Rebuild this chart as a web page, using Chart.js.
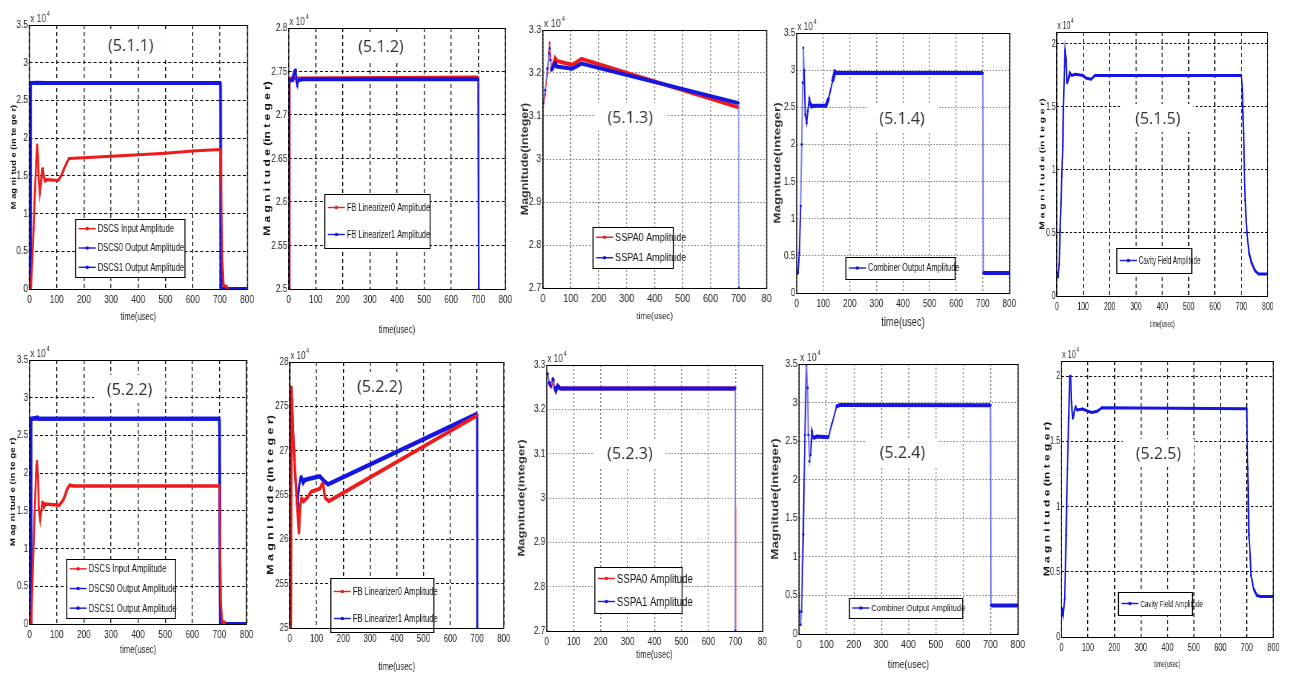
<!DOCTYPE html>
<html>
<head>
<meta charset="utf-8">
<script src="https://cdn.jsdelivr.net/npm/chart.js@4.4.1/dist/chart.umd.min.js"></script>
<style>
  body { margin: 0; background: #fff; }
  #page { position: relative; width: 1289px; height: 680px; overflow: hidden; background: #fff; }
  .panel { position: absolute; transform-origin: 0 0; }
</style>
</head>
<body>
<div id="page"></div>
<script>
// ---- tick values / labels ----
const xTickVals = [0, 100, 200, 300, 400, 500, 600, 700, 800];
const xTickText = ['0', '100', '200', '300', '400', '500', '600', '700', '800'];
const xTickTextCut = ['0', '100', '200', '300', '400', '500', '600', '700', '80'];
const yVals0to35 = [0, 0.5, 1, 1.5, 2, 2.5, 3, 3.5];
const yText0to35 = ['0', '0.5', '1', '1.5', '2', '2.5', '3', '3.5'];
const yVals25to28 = [2.5, 2.55, 2.6, 2.65, 2.7, 2.75, 2.8];
const yText25to28 = ['2.5', '2.55', '2.6', '2.65', '2.7', '2.75', '2.8'];
const yText25to28Blur = ['25', '255', '26', '265', '27', '275', '28'];
const yVals27to33 = [2.7, 2.8, 2.9, 3, 3.1, 3.2, 3.3];
const yText27to33 = ['2.7', '2.8', '2.9', '3', '3.1', '3.2', '3.3'];
const yVals0to2 = [0, 0.5, 1, 1.5, 2];
const yText0to2 = ['0', '0.5', '1', '1.5', '2'];

// ---- series, [time(usec), magnitude x10^4] ----
const dscsIn511 = [[0,0],[5,0],[10,0.35],[15,0.8],[20,1.3],[25,1.7],[28,1.91],[31,1.75],[34,1.45],[38,1.27],[42,1.4],[46,1.58],[49,1.6],[53,1.48],[58,1.43],[65,1.45],[105,1.44],[115,1.49],[130,1.62],[145,1.73],[200,1.74],[300,1.76],[400,1.78],[500,1.8],[600,1.83],[700,1.85],[703,1.84],[705,1.42],[709,0.35],[713,0.05],[725,0.03],[728,0]];
const dscs0Out511 = [[0,0],[3,0],[4,2.73],[700,2.73],[702,2.73],[704,0],[800,0]];
const dscs1Out511 = [[0,0],[3,0],[4,2.73],[30,2.735],[60,2.73],[700,2.73],[702,2.72],[704,0],[800,0]];

const fbLin0_512 = [[0,2.5],[3,2.5],[4,2.742],[700,2.743],[702,2.5]];
const fbLin1_512 = [[0,2.5],[2,2.5],[3,2.74],[14,2.74],[18,2.745],[22,2.75],[26,2.752],[29,2.738],[32,2.733],[36,2.74],[50,2.741],[700,2.741],[702,2.5]];

const sspa0_513 = [[0,3.12],[8,3.15],[16,3.2],[22,3.25],[24,3.27],[27,3.24],[30,3.21],[35,3.215],[40,3.225],[44,3.234],[50,3.228],[75,3.224],[105,3.219],[120,3.225],[138,3.233],[700,3.12]];
const sspa1_513 = [[0,2.7],[1,3.13],[8,3.16],[16,3.21],[22,3.245],[24,3.257],[27,3.23],[30,3.206],[35,3.212],[40,3.218],[44,3.222],[50,3.215],[75,3.213],[105,3.21],[120,3.215],[138,3.222],[700,3.13],[701,2.7]];

const combOut514 = [[0,0.27],[5,0.27],[10,0.54],[15,1.17],[19,2.0],[22.5,2.83],[25,3.3],[28,3.0],[32.5,2.4],[37.5,2.29],[42,2.45],[47.5,2.62],[52,2.55],[56,2.51],[65,2.52],[110,2.52],[120,2.62],[135,2.85],[144,2.98],[150,2.96],[700,2.96],[702,0.27],[800,0.27]];

const cavity515 = [[2,0.18],[5,0.15],[9,0.25],[12.5,0.52],[19,0.95],[22.5,1.19],[25,1.48],[29,1.82],[31.5,1.95],[35,1.88],[39,1.69],[44,1.72],[49,1.77],[57,1.75],[70,1.76],[100,1.75],[110,1.73],[130,1.72],[145,1.75],[700,1.75],[704,1.6],[708,1.29],[714,0.76],[721,0.5],[729,0.34],[739,0.26],[752,0.2],[765,0.175],[800,0.175]];

const dscsIn522 = [[0,0],[6,0],[12,0.73],[18,1.44],[25,2.1],[27,2.16],[31,1.97],[34,1.53],[39,1.38],[43,1.5],[47,1.62],[50,1.6],[53,1.55],[58,1.59],[110,1.575],[125,1.65],[140,1.8],[148,1.84],[160,1.83],[700,1.83],[702,1.18],[705,0.29],[710,0.03],[720,0.02],[722,0]];
const dscs0Out522 = [[0,0],[3,0],[5,2.72],[700,2.72],[703,0],[800,0]];
const dscs1Out522 = [[0,0],[3,0],[5,2.72],[30,2.74],[35,2.72],[700,2.72],[703,0],[800,0]];

const fbLin0_522 = [[4,2.5],[6,2.772],[10,2.733],[19,2.68],[29,2.632],[34,2.607],[38.6,2.636],[43.5,2.647],[51,2.643],[65,2.647],[81,2.654],[112,2.657],[124,2.664],[131,2.647],[146,2.643],[697,2.739],[700,2.74]];
const fbLin1_522 = [[0,2.5],[2,2.5],[3,2.771],[9,2.756],[14,2.707],[19,2.677],[27,2.643],[29,2.639],[34,2.658],[41,2.671],[50,2.664],[56,2.667],[81,2.669],[112,2.671],[131,2.665],[143,2.662],[697,2.741],[700,2.741],[701,2.5]];

const sspa0_523 = [[4,3.28],[9,3.261],[16,3.253],[25,3.265],[29,3.25],[34,3.242],[41,3.253],[50,3.247],[700,3.247],[700.5,null],[701,2.98],[701,2.7]];
const sspa1_523 = [[0,2.7],[1,3.28],[4,3.28],[9,3.261],[16,3.253],[22,3.27],[25,3.265],[29,3.25],[34,3.242],[41,3.253],[50,3.247],[700,3.247],[700,2.7]];

const combOut524 = [[2,0.29],[5,0.12],[9,0.29],[15,1.29],[21,2.58],[27,3.49],[31,3.19],[34,2.58],[38,2.24],[42,2.32],[47,2.63],[52,2.54],[64,2.56],[107,2.55],[137,2.95],[150,2.97],[700,2.964],[702,0.37],[800,0.37]];

const cavity525 = [[2.5,0.217],[6,0.166],[12.6,0.29],[17.6,0.78],[22.6,1.29],[27.6,1.68],[31.4,1.995],[35,2.0],[37.7,1.8],[42.7,1.675],[46,1.7],[53,1.765],[59,1.74],[80,1.747],[100,1.73],[115,1.72],[135,1.73],[153,1.757],[700,1.75],[703,1.29],[708,0.78],[716,0.47],[725,0.37],[737,0.32],[750,0.31],[800,0.31]];

// ---- styles ----
const RED = '#ee1b1b';
const BLUE = '#1616e2';
const LIGHTBLUE = '#7a7af0';
const FONT = "'Liberation Sans', Arial, sans-serif";
const Y_W = 40, TOP_PAD = 20, RIGHT_PAD = 16, X_H = 50;

const dashGrid = { color: '#111', dash: [4, 3] };
const dotGrid = { color: '#8a8a8a', dash: [2, 2] };

const spacedTitle = 'M a g n i t u d e (in t e g e r)';
const shortSpaced = 'M ag ni tud e (in te ge r)';

// k = horizontal squeeze of each panel (the source figure was squashed)
const panels = [
  { box: [29, 25, 246, 289], k: 0.76, yMin: 0, yMax: 3.5, yVals: yVals0to35, yText: yText0to35, xText: xTickText,
    grid: dashGrid, yTitle: shortSpaced, yTitleSize: 9.3, yTitleOff: 16, xTitleSize: 10, xTitleGap: 28, legendSize: 10,
    note: '(5.1.1)', notePos: [130, 45], legendBox: [75, 219, 184, 277],
    series: [
      { label: 'DSCS Input Amplitude', data: dscsIn511, color: RED, width: 3, steep: 2, order: 0 },
      { label: 'DSCS0 Output Amplitude', data: dscs0Out511, color: BLUE, width: 4, steep: 2.5, order: 2 },
      { label: 'DSCS1 Output Amplitude', data: dscs1Out511, color: BLUE, width: 4, steep: 2.5, order: 1 }
    ] },
  { box: [289, 28, 505, 289], k: 0.74, yMin: 2.5, yMax: 2.8, yVals: yVals25to28, yText: yText25to28, xText: xTickText,
    grid: dashGrid, yTitle: spacedTitle, yTitleSize: 12, yTitleOff: 21, xTitleSize: 10.5, xTitleGap: 41, legendSize: 10,
    note: '(5.1.2)', notePos: [381, 46], legendBox: [325, 194, 430, 248],
    series: [
      { label: 'FB Linearizer0 Amplitude', data: fbLin0_512, color: RED, width: 4, steep: 1.5, order: 1 },
      { label: 'FB Linearizer1 Amplitude', data: fbLin1_512, color: BLUE, width: 4, steep: 1.5, order: 0 }
    ] },
  { box: [543, 30, 766, 288], k: 0.82, yMin: 2.7, yMax: 3.3, yVals: yVals27to33, yText: yText27to33, xText: xTickTextCut,
    grid: dotGrid, yTitle: 'Magnitude(integer)', yTitleSize: 12.5, plainTitle: true, yTitleOff: 18, xTitleSize: 9.5, xTitleGap: 28, legendSize: 11,
    note: '(5.1.3)', notePos: [630, 117], legendBox: [593, 227, 673, 268],
    series: [
      { label: 'SSPA0 Amplitude', data: sspa0_513, color: RED, width: 4, steep: 1.2, order: 1 },
      { label: 'SSPA1 Amplitude', data: sspa1_513, color: BLUE, width: 4, steep: 1, steepColor: LIGHTBLUE, order: 0 }
    ] },
  { box: [797, 33, 1009, 293], k: 0.74, yMin: 0, yMax: 3.5, yVals: yVals0to35, yText: yText0to35, xText: xTickText,
    grid: dotGrid, yTitle: 'Magnitude(integer)', yTitleSize: 13.5, plainTitle: true, yTitleOff: 19, xTitleSize: 12.5, xTitleGap: 30, legendSize: 10,
    note: '(5.1.4)', notePos: [902, 118], legendBox: [846, 257, 955, 279],
    series: [
      { label: 'Combiner Output Amplitude', data: combOut514, color: BLUE, width: 4, steep: 1.4, vertColor: LIGHTBLUE, order: 0 }
    ] },
  { box: [1057, 32, 1268, 296], k: 0.62, yMin: 0, yMax: 2.095, yVals: yVals0to2, yText: yText0to2, xText: xTickText,
    grid: dashGrid, yTitle: spacedTitle, yTitleSize: 10.2, yTitleOff: 14, xTitleSize: 8.5, xTitleGap: 29, legendSize: 10,
    note: '(5.1.5)', notePos: [1158, 118], legendBox: [1117, 248, 1192, 273],
    series: [
      { label: 'Cavity Field Amplitude', data: cavity515, color: BLUE, width: 3, steep: 1.5, order: 0 }
    ] },
  { box: [30, 360, 247, 624], k: 0.74, yMin: 0, yMax: 3.5, yVals: yVals0to35, yText: yText0to35, xText: xTickText,
    grid: dashGrid, yTitle: shortSpaced, yTitleSize: 9.7, yTitleOff: 17, xTitleSize: 10.5, xTitleGap: 26, legendSize: 10.5,
    note: '(5.2.2)', notePos: [130, 389], legendBox: [67, 559, 176, 618],
    series: [
      { label: 'DSCS Input Amplitude', data: dscsIn522, color: RED, width: 3.5, steep: 2, order: 0 },
      { label: 'DSCS0 Output Amplitude', data: dscs0Out522, color: BLUE, width: 4, steep: 2.5, order: 2 },
      { label: 'DSCS1 Output Amplitude', data: dscs1Out522, color: BLUE, width: 4, steep: 2.5, order: 1 }
    ] },
  { box: [290, 362, 504, 628], k: 0.72, yMin: 2.5, yMax: 2.8, yVals: yVals25to28, yText: yText25to28Blur, xText: xTickText,
    grid: dashGrid, yTitle: spacedTitle, yTitleSize: 12.4, yTitleOff: 19, xTitleSize: 11, xTitleGap: 39, legendSize: 10.5,
    note: '(5.2.2)', notePos: [380, 386], legendBox: [331, 578, 434, 632],
    series: [
      { label: 'FB Linearizer0 Amplitude', data: fbLin0_522, color: RED, width: 4, steep: 2.5, order: 0 },
      { label: 'FB Linearizer1 Amplitude', data: fbLin1_522, color: BLUE, width: 4.5, steep: 2, order: 1 }
    ] },
  { box: [547, 365, 762, 631], k: 0.74, yMin: 2.7, yMax: 3.3, yVals: yVals27to33, yText: yText27to33, xText: xTickTextCut,
    grid: dotGrid, yTitle: 'Magnitude(integer)', yTitleSize: 13, plainTitle: true, yTitleOff: 25, xTitleSize: 10.5, xTitleGap: 24, legendSize: 13,
    note: '(5.2.3)', notePos: [630, 453], legendBox: [595, 567, 682, 613],
    series: [
      { label: 'SSPA0 Amplitude', data: sspa0_523, color: RED, width: 4, steep: 1.2, dots: 0, order: 1 },
      { label: 'SSPA1 Amplitude', data: sspa1_523, color: BLUE, width: 4, steep: 1.2, steepColor: LIGHTBLUE, order: 0 }
    ] },
  { box: [799, 364, 1017, 634], k: 0.8, yMin: 0, yMax: 3.5, yVals: yVals0to35, yText: yText0to35, xText: xTickText,
    grid: dotGrid, yTitle: 'Magnitude(integer)', yTitleSize: 13.5, plainTitle: true, yTitleOff: 24, xTitleSize: 11, xTitleGap: 31, legendSize: 9.5,
    note: '(5.2.4)', notePos: [902, 452], legendBox: [849, 598, 962, 618],
    series: [
      { label: 'Combiner Output Amplitude', data: combOut524, color: BLUE, width: 4, steep: 1.4, vertColor: LIGHTBLUE, order: 0 }
    ] },
  { box: [1061, 361, 1273, 637], k: 0.66, yMin: 0, yMax: 2.115, yVals: yVals0to2, yText: yText0to2, xText: xTickText,
    grid: dashGrid, yTitle: spacedTitle, yTitleSize: 12, yTitleOff: 14, xTitleSize: 8.5, xTitleGap: 28, legendSize: 9.5,
    note: '(5.2.5)', notePos: [1158, 453], legendBox: [1118, 592, 1192, 615],
    series: [
      { label: 'Cavity Field Amplitude', data: cavity525, color: BLUE, width: 3, steep: 1.5, order: 0 }
    ] }
];

// frame, x10^4 label, figure note and the boxed legend
const decor = {
  id: 'decor',
  afterDraw(chart) {
    const p = chart.options.plugins.decor;
    const { ctx, chartArea: a } = chart;
    const k = p.k;
    const X = px => (px - p.offX) / k;
    const Y = py => py - p.offY;
    ctx.save();
    ctx.setLineDash([]);

    // legend box
    const lx0 = X(p.legendBox[0]), lx1 = X(p.legendBox[2]);
    const ly0 = Y(p.legendBox[1]), ly1 = Y(p.legendBox[3]);
    ctx.fillStyle = '#fff';
    ctx.fillRect(lx0, ly0, lx1 - lx0, ly1 - ly0);
    ctx.strokeStyle = '#000';
    ctx.lineWidth = 1;
    ctx.beginPath();
    ctx.moveTo(lx0, Math.round(ly0) + 0.5); ctx.lineTo(lx1, Math.round(ly0) + 0.5);
    ctx.moveTo(lx0, Math.round(ly1) + 0.5); ctx.lineTo(lx1, Math.round(ly1) + 0.5);
    ctx.stroke();
    ctx.lineWidth = 1 / k;
    ctx.beginPath();
    ctx.moveTo(lx0, ly0); ctx.lineTo(lx0, ly1 + 1);
    ctx.moveTo(lx1, ly0); ctx.lineTo(lx1, ly1 + 1);
    ctx.stroke();
    const n = p.series.length;
    p.series.forEach((s, i) => {
      const cy = ly0 + (ly1 - ly0) * (i + 0.5) / n;
      ctx.strokeStyle = s.color;
      ctx.lineWidth = 1.4;
      ctx.beginPath();
      ctx.moveTo(lx0 + 3 / k, cy);
      ctx.lineTo(lx0 + 20 / k, cy);
      ctx.stroke();
      ctx.fillStyle = s.color;
      ctx.beginPath();
      ctx.ellipse(lx0 + 11.5 / k, cy, 1.8 / k, 1.8, 0, 0, Math.PI * 2);
      ctx.fill();
      ctx.fillStyle = '#111';
      ctx.font = `${p.legendSize}px ${FONT}`;
      ctx.textAlign = 'left';
      ctx.textBaseline = 'middle';
      ctx.fillText(s.label, lx0 + 22 / k, cy + 0.5);
    });

    // figure number with white backing, drawn unsqueezed
    ctx.save();
    ctx.translate(X(p.notePos[0]), Y(p.notePos[1]));
    ctx.scale(1 / k, 1);
    ctx.font = "16px 'Open Sans', 'Noto Sans', sans-serif";
    const tw = ctx.measureText(p.note).width;
    ctx.fillStyle = '#fff';
    ctx.fillRect(-tw / 2 - 13, -14, tw + 26, 28);
    ctx.fillStyle = '#333';
    ctx.textAlign = 'center';
    ctx.textBaseline = 'middle';
    ctx.fillText(p.note, 0, 1);
    ctx.restore();

    // axes frame
    const L = Math.round(a.left), R = Math.round(a.right), T = Math.round(a.top) + 0.5, B = Math.round(a.bottom) + 0.5;
    ctx.strokeStyle = '#000';
    ctx.lineWidth = 1;
    ctx.beginPath();
    ctx.moveTo(L, T); ctx.lineTo(R, T);
    ctx.moveTo(L, B); ctx.lineTo(R, B);
    ctx.stroke();
    ctx.lineWidth = 1 / k;
    ctx.beginPath();
    ctx.moveTo(L, T - 0.5); ctx.lineTo(L, B + 0.5);
    ctx.moveTo(R, T - 0.5); ctx.lineTo(R, B + 0.5);
    ctx.stroke();

    // exponent label
    ctx.fillStyle = '#333';
    ctx.textAlign = 'left';
    ctx.textBaseline = 'alphabetic';
    ctx.font = `11px ${FONT}`;
    ctx.fillText('x 10', a.left + 1, a.top - 3);
    const w = ctx.measureText('x 10').width;
    ctx.font = `7.5px ${FONT}`;
    ctx.fillText('4', a.left + 2 + w, a.top - 9);
    ctx.restore();
  }
};

const page = document.getElementById('page');

panels.forEach(p => {
  const [l, t, r, b] = p.box;
  const k = p.k;
  const div = document.createElement('div');
  div.className = 'panel';
  const offX = l - Y_W * k, offY = t - TOP_PAD;
  div.style.left = offX + 'px';
  div.style.top = offY + 'px';
  div.style.width = ((r - l) / k + Y_W + RIGHT_PAD) + 'px';
  div.style.height = (b - t + TOP_PAD + X_H) + 'px';
  div.style.transform = `scaleX(${k})`;
  const canvas = document.createElement('canvas');
  div.appendChild(canvas);
  page.appendChild(div);

  const tickFont = { family: FONT, size: 11 };
  const yLh = p.yTitleSize * 1.2;
  const xLh = p.xTitleSize * 1.2;
  const steepTest = c => {
    const dx = Math.abs(c.p1.x - c.p0.x), dy = Math.abs(c.p1.y - c.p0.y);
    return dy > 3 * dx && dy > 4;
  };

  new Chart(canvas, {
    type: 'line',
    data: {
      datasets: p.series.map(s => ({
        label: s.label,
        data: s.data.map(([x, y]) => ({ x, y })),
        borderColor: s.color,
        backgroundColor: s.color,
        borderWidth: s.width,
        pointRadius: s.dots === undefined ? 1.4 : s.dots,
        pointBorderWidth: 0,
        pointBackgroundColor: s.color,
        tension: 0,
        spanGaps: false,
        order: s.order,
        segment: {
          borderWidth: c => steepTest(c) ? s.steep / k : undefined,
          borderColor: c => {
            if (!steepTest(c)) return undefined;
            const dx = Math.abs(c.p1.x - c.p0.x);
            if (s.vertColor && dx < 1.5) return s.vertColor;
            return s.steepColor || undefined;
          }
        }
      }))
    },
    options: {
      responsive: true,
      maintainAspectRatio: false,
      animation: false,
      devicePixelRatio: 1,
      layout: { padding: { top: TOP_PAD, right: RIGHT_PAD, left: 0, bottom: 0 } },
      plugins: {
        legend: { display: false },
        tooltip: { enabled: false },
        decor: { ...p, offX, offY }
      },
      scales: {
        x: {
          type: 'linear',
          min: 0,
          max: 800,
          afterBuildTicks: s => { s.ticks = xTickVals.map(v => ({ value: v })); },
          afterFit: s => { s.height = X_H; },
          ticks: {
            autoSkip: false, maxRotation: 0, padding: 4, color: '#222', font: tickFont,
            callback: (v, i) => p.xText[i]
          },
          grid: { color: p.grid.color, lineWidth: 1 / k, drawTicks: false },
          border: { display: false, dash: p.grid.dash },
          title: {
            display: true, text: 'time(usec)', color: '#222',
            font: { family: FONT, size: p.xTitleSize },
            padding: { top: 0, bottom: X_H - p.xTitleGap - xLh / 2 }
          }
        },
        y: {
          type: 'linear',
          min: p.yMin,
          max: p.yMax,
          afterBuildTicks: s => { s.ticks = p.yVals.map(v => ({ value: v })); },
          afterFit: s => { s.width = Y_W; },
          ticks: {
            autoSkip: false, padding: 2, color: '#222', font: tickFont,
            callback: (v, i) => p.yText[i]
          },
          grid: { color: p.grid.color, lineWidth: 1, drawTicks: false },
          border: { display: false, dash: p.grid.dash },
          title: {
            display: true, text: p.yTitle, color: p.plainTitle ? '#333' : '#111',
            font: { family: FONT, size: p.yTitleSize, weight: 'bold' },
            padding: { top: Y_W - p.yTitleOff / k - yLh / 2, bottom: 0 }
          }
        }
      }
    },
    plugins: [decor]
  });
});
</script>
</body>
</html>
